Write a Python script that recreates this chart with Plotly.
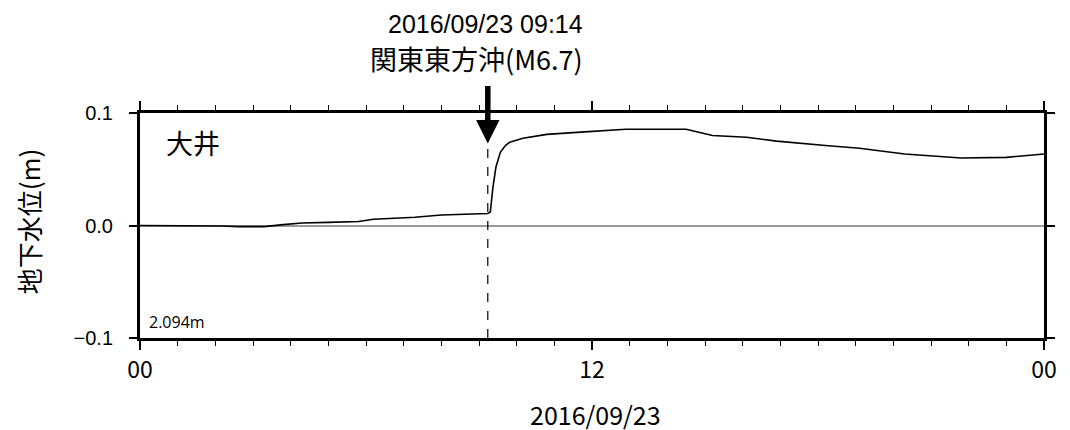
import plotly.graph_objects as go

# --- data ---
times = ["2016-09-23 00:00", "2016-09-23 01:00", "2016-09-23 02:00", "2016-09-23 02:12",
         "2016-09-23 02:36", "2016-09-23 03:18", "2016-09-23 03:48", "2016-09-23 04:18",
         "2016-09-23 05:00", "2016-09-23 05:48", "2016-09-23 06:12", "2016-09-23 07:18",
         "2016-09-23 08:00", "2016-09-23 09:00", "2016-09-23 09:14", "2016-09-23 09:18",
         "2016-09-23 09:22", "2016-09-23 09:27", "2016-09-23 09:34", "2016-09-23 09:42",
         "2016-09-23 09:49", "2016-09-23 10:10", "2016-09-23 10:48", "2016-09-23 11:42",
         "2016-09-23 12:54", "2016-09-23 14:30", "2016-09-23 15:12", "2016-09-23 16:06",
         "2016-09-23 16:54", "2016-09-23 18:12", "2016-09-23 19:06", "2016-09-23 20:18",
         "2016-09-23 21:48", "2016-09-23 23:00", "2016-09-24 00:00"]
level = [0.0, 0.0, 0.0, -0.0005,
         -0.001, -0.001, 0.0008, 0.0022,
         0.0028, 0.0035, 0.0055, 0.0074,
         0.0093, 0.0104, 0.0106, 0.012,
         0.033, 0.052, 0.065, 0.071,
         0.074, 0.0776, 0.081, 0.083,
         0.0855, 0.0855, 0.080, 0.0785,
         0.075, 0.0711, 0.0687, 0.0636,
         0.060, 0.0606, 0.0636]

quake_time = "2016-09-23 09:14"
quake_label = "2016/09/23 09:14"
quake_name = "関東東方沖(M6.7)"
station = "大井"
base_level = "2.094m"
x_range = ["2016-09-23 00:00", "2016-09-24 00:00"]
x_tickvals = ["2016-09-23 00:00", "2016-09-23 12:00", "2016-09-24 00:00"]
x_ticktext = ["00", "12", "00"]
y_tickvals = [-0.1, 0.0, 0.1]
y_ticktext = ["\u22120.1", "0.0", "0.1"]
x_title = "2016/09/23"
y_title = "地下水位(m)"

JP = "Noto Sans CJK JP"
LAT = "Liberation Sans"

fig = go.Figure()
fig.add_trace(go.Scatter(x=times, y=level, mode="lines",
                         line=dict(color="black", width=1.6), showlegend=False))

# dashed vertical line at quake time
fig.add_shape(type="line", xref="x", yref="y", x0=quake_time, x1=quake_time,
              y0=-0.1, y1=0.073, line=dict(color="black", width=1.2, dash="dash"))

# arrow
fig.add_annotation(x=quake_time, y=0.073, xref="x", yref="y", text="",
                   showarrow=True, arrowhead=2, arrowsize=0.85, arrowwidth=5.5,
                   arrowcolor="black", ax=0, ay=-59, standoff=0)

fig.add_annotation(x=quake_time, y=1.0, xref="x", yref="paper", yanchor="middle",
                   xshift=-2, yshift=89, text=quake_label, showarrow=False,
                   font=dict(family=LAT, size=25, color="black"))
fig.add_annotation(x=quake_time, y=1.0, xref="x", yref="paper", yanchor="middle",
                   xshift=-11, yshift=55, text=quake_name, showarrow=False,
                   font=dict(family=JP, size=27, color="black"))
fig.add_annotation(x=0.026, y=0.965, xref="paper", yref="paper", xanchor="left",
                   yanchor="top", text=station, showarrow=False,
                   font=dict(family=JP, size=27, color="black"))
fig.add_annotation(x=0.008, y=0.015, xref="paper", yref="paper", xanchor="left",
                   yanchor="bottom", text=base_level, showarrow=False,
                   font=dict(family="Open Sans", size=16, color="black"))
# axis titles
fig.add_annotation(x=0.504, y=0.0, xref="paper", yref="paper", yanchor="middle",
                   yshift=-76, text=x_title, showarrow=False,
                   font=dict(family=JP, size=25, color="black"))
fig.add_annotation(x=-0.1235, y=0.52, xref="paper", yref="paper", xanchor="center",
                   yanchor="middle", textangle=-90, text=y_title, showarrow=False,
                   font=dict(family=JP, size=26, color="black"))

fig.update_layout(
    width=1070, height=430,
    margin=dict(l=132, r=34, t=105, b=100),
    paper_bgcolor="white", plot_bgcolor="white",
    xaxis=dict(type="date", range=x_range, tickvals=x_tickvals, ticktext=x_ticktext,
               ticks="outside", ticklen=9, tickwidth=1.5, tickcolor="black",
               showline=True, linewidth=3, linecolor="black", mirror="allticks",
               showgrid=False, zeroline=False,
               minor=dict(dtick=3600000, ticks="outside", ticklen=5, tickwidth=1,
                          tickcolor="black", showgrid=False),
               tickfont=dict(family=JP, size=23, color="black")),
    yaxis=dict(range=[-0.1, 0.1], tickvals=y_tickvals, ticktext=y_ticktext,
               ticks="outside", ticklen=8, tickwidth=1.5, tickcolor="black",
               showline=True, linewidth=3, linecolor="black", mirror="allticks",
               showgrid=False, zeroline=True, zerolinecolor="#999999", zerolinewidth=1.5,
               ticklabelstandoff=12,
               tickfont=dict(family=LAT, size=20, color="black")),
)

fig.write_html("out.html")
